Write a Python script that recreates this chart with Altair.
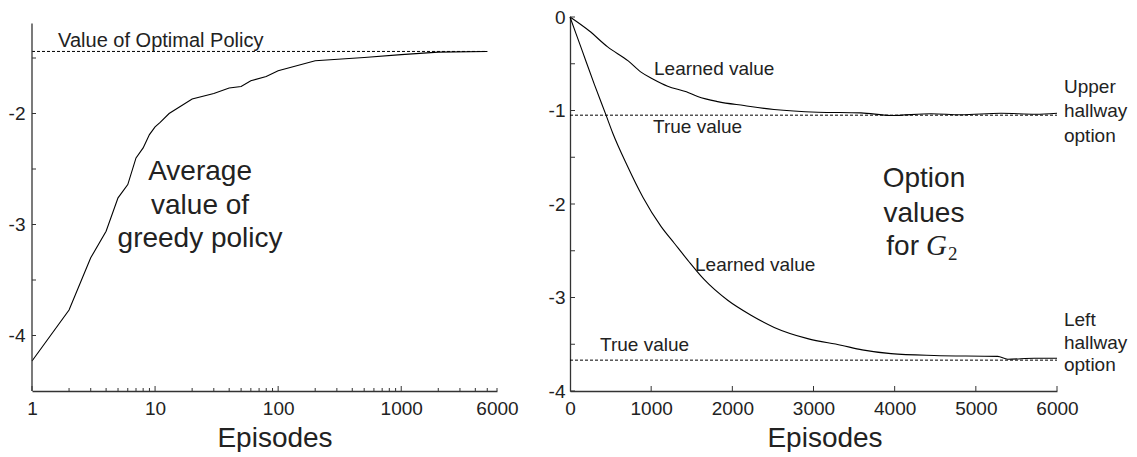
import altair as alt
import pandas as pd

FONT = "Liberation Sans"
INK = "#222222"

# ---------------- Left panel data ----------------
greedy_episodes = [1, 2, 3, 4, 5, 6, 7, 8, 9, 10, 11, 13, 20, 30, 40, 50, 60, 80,
                   100, 200, 500, 1000, 2000, 5000]
greedy_values = [-4.23, -3.77, -3.30, -3.06, -2.76, -2.64, -2.40, -2.31, -2.19, -2.12,
                 -2.08, -2.00, -1.87, -1.82, -1.77, -1.757, -1.705, -1.667,
                 -1.615, -1.525, -1.495, -1.47, -1.447, -1.441]
optimal_value = -1.441
optimal_span = [1, 5000]
left_x_labels = [1, 10, 100, 1000, 6000]
left_x_major_ticks = [1, 10, 100, 1000]
left_x_minor_ticks = [2, 3, 4, 5, 6, 7, 8, 9, 20, 30, 40, 50, 60, 70, 80, 90,
                      200, 300, 400, 500, 600, 700, 800, 900, 2000, 3000, 4000, 5000, 6000]
left_y_labels = [-2, -3, -4]
left_y_ticks = [-1.5, -2, -2.5, -3, -3.5, -4]
left_axis_span = [-4.5, -1.19]

left_note_text = ["Value of Optimal Policy"]
left_note_x = [1.63]
left_note_y = [-1.403]
left_big_text = ["Average", "value of", "greedy policy"]
left_big_x = [23.2, 23.2, 23.2]
left_big_y = [-2.595, -2.901, -3.207]

# ---------------- Right panel data ----------------
upper_episodes = [0, 239, 464, 717, 875, 1014, 1203, 1434, 1573, 1820, 2144, 2513,
                  3051, 3585, 3955, 4448, 4817, 5310, 5737, 6000]
upper_values = [0, -0.15, -0.32, -0.47, -0.59, -0.66, -0.74, -0.80, -0.85, -0.905,
                -0.947, -0.99, -1.018, -1.025, -1.053, -1.035, -1.046, -1.03, -1.04, -1.03]
lower_episodes = [0, 150, 300, 444, 526, 700, 900, 1121, 1285, 1450, 1655, 1943, 2230,
                  2516, 2928, 3339, 3600, 3955, 4485, 5269, 5393, 5720, 6000]
lower_values = [0, -0.36, -0.72, -1.05, -1.24, -1.58, -1.93, -2.24, -2.42, -2.60, -2.81,
                -3.03, -3.19, -3.32, -3.44, -3.51, -3.56, -3.60, -3.62, -3.63, -3.66,
                -3.65, -3.65]
true_values = [-1.05, -3.67]
true_span = [0, 6000]
right_x_labels = [0, 1000, 2000, 3000, 4000, 5000, 6000]
right_x_ticks = [1000, 2000, 3000, 4000, 5000, 6000]
right_y_labels = [0, -1, -2, -3, -4]
right_y_ticks = [0, -0.5, -1, -1.5, -2, -2.5, -3, -3.5, -4]

right_small_text = ["Learned value", "True value", "Learned value", "True value",
                    "Upper", "hallway", "option", "Left", "hallway", "option"]
right_small_x = [1035, 1023, 1540, 370, 6086, 6086, 6086, 6086, 6086, 6086]
right_small_y = [-0.621, -1.242, -2.712, -3.576, -0.81, -1.074, -1.337,
                 -3.305, -3.547, -3.789]
right_big_text = ["Option", "values"]
right_big_x = [4361, 4361]
right_big_y = [-1.82, -2.19]
right_for_x = [4361]
right_for_y = [-2.547]

# ---------------- geometry ----------------
H = 374
LW = 465
RW = 487
left_top = -4.5 + H / 111.0

# ---------------- Left chart ----------------
xs_l = alt.Scale(type="log", domain=[1, 6000], nice=False)
ys_l = alt.Scale(domain=[-4.5, left_top], nice=False, zero=False)

x_axis_l = alt.Axis(values=left_x_labels, labelExpr="'' + datum.value", ticks=False,
                    grid=False, domain=True, labelFlush=False, labelOverlap=False,
                    labelFontSize=19, labelPadding=8, titleFontSize=28,
                    titleFontWeight="normal", titlePadding=6, titleX=LW / 2 + 10)
y_axis_l = alt.Axis(values=left_y_labels, labelExpr="'' + datum.value", ticks=False,
                    grid=False, domain=False, labelFontSize=19, labelPadding=7)

curve_l = alt.Chart(pd.DataFrame({"ep": greedy_episodes, "v": greedy_values})).mark_line(
    color="black", strokeWidth=1.1
).encode(
    x=alt.X("ep:Q", scale=xs_l, axis=x_axis_l, title="Episodes"),
    y=alt.Y("v:Q", scale=ys_l, axis=y_axis_l, title=None),
)

opt_l = alt.Chart(pd.DataFrame({"x": [optimal_span[0]], "x2": [optimal_span[1]],
                                "y": [optimal_value]})).mark_rule(
    color="black", strokeWidth=1, strokeDash=[3, 2]
).encode(x="x:Q", x2="x2:Q", y="y:Q")

yline_l = alt.Chart(pd.DataFrame({"y": [left_axis_span[0]], "y2": [left_axis_span[1]]})).mark_rule(
    color="#333333", strokeWidth=1.3
).encode(x=alt.value(0), y="y:Q", y2="y2:Q")

xmaj_l = alt.Chart(pd.DataFrame({"t": left_x_major_ticks})).mark_rule(color="#333333").encode(
    x="t:Q", y=alt.value(H), y2=alt.value(H - 5))
xmin_l = alt.Chart(pd.DataFrame({"t": left_x_minor_ticks})).mark_rule(color="#333333").encode(
    x="t:Q", y=alt.value(H), y2=alt.value(H - 3))
yt_l = alt.Chart(pd.DataFrame({"t": left_y_ticks})).mark_rule(color="#333333").encode(
    y="t:Q", x=alt.value(0), x2=alt.value(4))

note_l = alt.Chart(pd.DataFrame({"t": left_note_text, "x": left_note_x, "y": left_note_y})).mark_text(
    align="left", baseline="alphabetic", fontSize=20, font=FONT, color=INK
).encode(x="x:Q", y="y:Q", text="t:N")

big_l = alt.Chart(pd.DataFrame({"t": left_big_text, "x": left_big_x, "y": left_big_y})).mark_text(
    align="center", baseline="alphabetic", fontSize=28, font=FONT, color=INK
).encode(x="x:Q", y="y:Q", text="t:N")

left = alt.layer(curve_l, opt_l, yline_l, xmaj_l, xmin_l, yt_l, note_l, big_l).properties(
    width=LW, height=H)

# ---------------- Right chart ----------------
xs_r = alt.Scale(domain=[0, 6000], nice=False)
ys_r = alt.Scale(domain=[-4, 0], nice=False)

x_axis_r = alt.Axis(values=right_x_labels, labelExpr="'' + datum.value", ticks=False,
                    grid=False, domain=True, labelFlush=False, labelOverlap=False,
                    labelFontSize=19, labelPadding=8, titleFontSize=28,
                    titleFontWeight="normal", titlePadding=6, titleX=RW / 2 + 11)
y_axis_r = alt.Axis(values=right_y_labels, labelExpr="'' + datum.value", ticks=False,
                    grid=False, domain=True, labelFontSize=19, labelPadding=5)

upper_df = pd.DataFrame({"ep": upper_episodes, "v": upper_values})
lower_df = pd.DataFrame({"ep": lower_episodes, "v": lower_values})

curve_u = alt.Chart(upper_df).mark_line(color="black", strokeWidth=1.1,
                                        interpolate="monotone").encode(
    x=alt.X("ep:Q", scale=xs_r, axis=x_axis_r, title="Episodes"),
    y=alt.Y("v:Q", scale=ys_r, axis=y_axis_r, title=None),
)
curve_d = alt.Chart(lower_df).mark_line(color="black", strokeWidth=1.1,
                                        interpolate="monotone").encode(
    x="ep:Q", y="v:Q")

true_r = alt.Chart(pd.DataFrame({"x": [true_span[0]] * 2, "x2": [true_span[1]] * 2,
                                 "y": true_values})).mark_rule(
    color="black", strokeWidth=1, strokeDash=[3, 2]
).encode(x="x:Q", x2="x2:Q", y="y:Q")

xt_r = alt.Chart(pd.DataFrame({"t": right_x_ticks})).mark_rule(color="#333333").encode(
    x="t:Q", y=alt.value(H), y2=alt.value(H - 5))
yt_r = alt.Chart(pd.DataFrame({"t": right_y_ticks})).mark_rule(color="#333333").encode(
    y="t:Q", x=alt.value(0), x2=alt.value(5))

small_r = alt.Chart(pd.DataFrame({"t": right_small_text, "x": right_small_x,
                                  "y": right_small_y})).mark_text(
    align="left", baseline="alphabetic", fontSize=19, font=FONT, color=INK
).encode(x="x:Q", y="y:Q", text="t:N")

big_r = alt.Chart(pd.DataFrame({"t": right_big_text, "x": right_big_x,
                                "y": right_big_y})).mark_text(
    align="center", baseline="alphabetic", fontSize=28, font=FONT, color=INK
).encode(x="x:Q", y="y:Q", text="t:N")

for_df = pd.DataFrame({"x": right_for_x, "y": right_for_y})
for_r = alt.Chart(for_df).mark_text(
    align="right", baseline="alphabetic", fontSize=28, font=FONT, color=INK, dx=-5
).encode(x="x:Q", y="y:Q", text=alt.value("for"))
g_r = alt.Chart(for_df).mark_text(
    align="left", baseline="alphabetic", fontSize=29, font="Liberation Serif",
    fontStyle="italic", color=INK, dx=2
).encode(x="x:Q", y="y:Q", text=alt.value("G"))
sub_r = alt.Chart(for_df).mark_text(
    align="left", baseline="alphabetic", fontSize=19, font="Liberation Serif",
    color=INK, dx=24, dy=5
).encode(x="x:Q", y="y:Q", text=alt.value("2"))

right = alt.layer(curve_u, curve_d, true_r, xt_r, yt_r, small_r, big_r, for_r, g_r, sub_r).properties(
    width=RW, height=H)

chart = alt.hconcat(left, right, spacing=29).properties(
    padding={"left": 0, "top": 0, "right": 0, "bottom": 0}
).configure_view(stroke=None).configure_axis(
    labelFont=FONT, titleFont=FONT, labelColor=INK, titleColor=INK,
    domainColor="#333333", domainWidth=1.3
)

chart.save("out.html", embed_options={"renderer": "svg", "actions": False})
